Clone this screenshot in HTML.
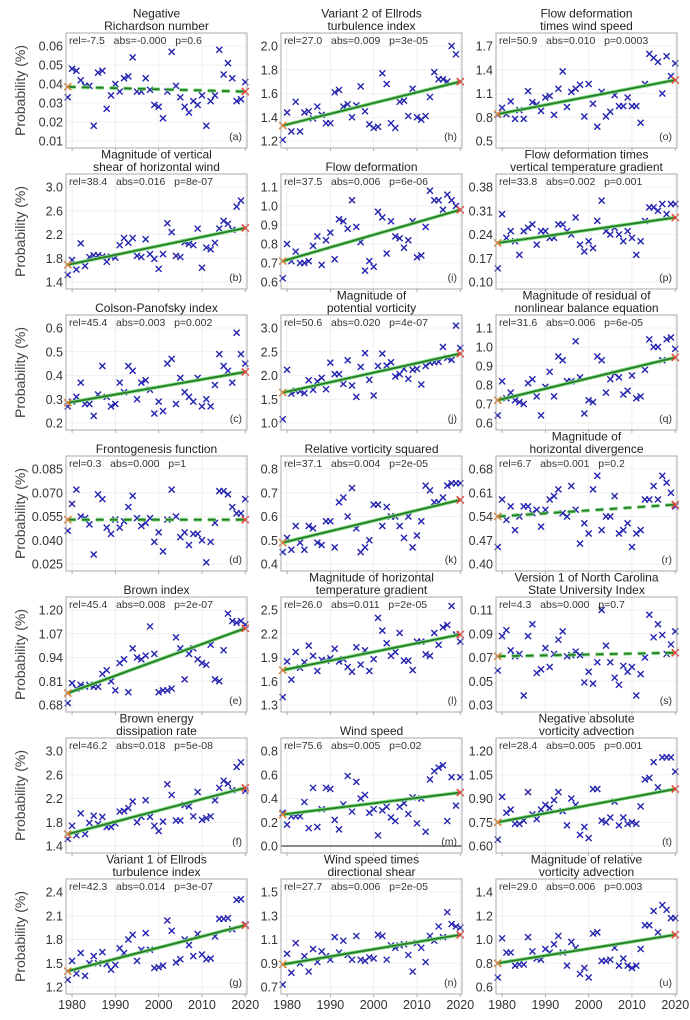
<!DOCTYPE html>
<html><head><meta charset="utf-8">
<style>
html,body{margin:0;padding:0;background:#fff;}
svg{display:block;font-family:"Liberation Sans","DejaVu Sans",sans-serif;}
.pre{white-space:pre;}
</style></head>
<body>
<svg id="chart" width="690" height="1020" viewBox="0 0 690 1020" xmlns="http://www.w3.org/2000/svg"></svg>
<script>
const years = [1979,1980,1981,1982,1983,1984,1985,1986,1987,1988,1989,1990,1991,1992,1993,1994,1995,1996,1997,1998,1999,2000,2001,2002,2003,2004,2005,2006,2007,2008,2009,2010,2011,2012,2013,2014,2015,2016,2017,2018,2019,2020];
const xTicks = [1980,1990,2000,2010,2020];

const valsA = [.033,.048,.047,.042,.039,.039,.018,.046,.047,.027,.034,.040,.036,.043,.044,.054,.036,.036,.043,.037,.029,.028,.022,.036,.057,.039,.033,.028,.025,.031,.029,.034,.018,.031,.034,.058,.045,.051,.043,.031,.032,.041];
const valsH = [1.21,1.44,1.28,1.53,1.28,1.44,1.45,1.39,1.49,1.42,1.35,1.35,1.61,1.63,1.49,1.51,1.40,1.50,1.66,1.45,1.34,1.31,1.32,1.77,1.68,1.35,1.31,1.53,1.54,1.41,1.64,1.40,1.38,1.41,1.57,1.78,1.72,1.72,1.70,2.00,1.93,1.70];
const valsO = [.83,.92,.84,1.00,.78,.89,.78,1.13,.99,.96,.88,1.05,1.07,.83,1.16,1.38,.93,1.12,1.16,1.21,.81,1.22,.97,.68,1.12,.81,.87,1.08,.94,.94,1.05,.94,.94,.73,1.22,1.60,1.55,1.50,1.10,1.57,1.32,1.48];
const valsB = [1.52,1.77,1.61,2.05,1.67,1.82,1.85,1.85,1.83,1.74,1.83,1.81,2.02,2.14,2.06,2.14,1.84,1.82,2.12,1.87,1.79,1.62,1.87,2.39,2.24,1.84,1.82,2.07,2.04,2.02,2.30,1.64,1.98,1.95,2.06,2.30,2.43,2.38,2.28,2.67,2.77,2.31];
const valsI = [.62,.80,.71,.76,.70,.70,.71,.79,.84,.69,.82,.86,.72,.93,.92,.88,1.03,.89,.81,.66,.71,.68,.97,.94,.75,.92,.84,.83,.78,.82,.92,.73,.74,.89,1.08,1.03,1.03,.98,1.06,1.03,1.00,.98];
const valsP = [.14,.30,.23,.25,.22,.18,.25,.26,.27,.21,.25,.25,.23,.23,.27,.27,.25,.24,.29,.21,.19,.22,.20,.28,.34,.25,.24,.26,.24,.22,.25,.23,.18,.22,.28,.32,.32,.31,.33,.30,.33,.33];
const valsC = [.27,.29,.31,.37,.28,.28,.23,.32,.44,.31,.27,.28,.37,.33,.44,.42,.30,.37,.38,.34,.24,.29,.25,.45,.47,.28,.39,.33,.31,.29,.39,.27,.30,.27,.36,.49,.44,.42,.37,.58,.49,.45];
const valsJ = [1.08,2.12,1.62,1.68,1.67,1.63,1.90,1.70,1.88,1.95,1.71,2.27,2.03,2.03,1.82,2.32,1.79,1.55,2.18,2.47,1.91,1.58,2.20,2.46,2.21,2.28,1.98,2.03,2.14,1.93,2.12,2.14,1.81,2.20,2.27,2.28,2.29,2.60,2.37,2.33,3.05,2.58];
const valsQ = [.64,.82,.73,.76,.72,.71,.70,.81,.83,.74,.64,.79,.87,.74,.95,.93,.82,.82,1.03,.84,.65,.72,.71,.95,.93,.76,.83,.86,.84,.75,.77,.85,.73,.74,.88,1.04,1.00,1.00,.93,1.04,1.05,.99];
const valsD = [.046,.063,.072,.055,.054,.050,.031,.069,.066,.048,.044,.053,.048,.052,.061,.068,.054,.049,.051,.054,.039,.045,.033,.053,.072,.055,.042,.045,.037,.044,.044,.040,.026,.039,.051,.071,.071,.069,.061,.057,.057,.066];
const valsK = [.45,.51,.46,.56,.49,.46,.56,.55,.49,.48,.58,.58,.47,.66,.68,.60,.72,.55,.45,.47,.50,.65,.65,.56,.64,.60,.60,.56,.51,.60,.47,.52,.58,.73,.71,.66,.66,.68,.73,.74,.74,.74];
const valsR = [.45,.59,.53,.57,.50,.54,.57,.57,.55,.56,.51,.56,.59,.60,.62,.55,.54,.63,.56,.46,.52,.49,.62,.66,.50,.54,.54,.60,.49,.50,.52,.45,.49,.50,.59,.59,.63,.59,.66,.64,.61,.57];
const valsE = [.69,.80,.77,.79,.78,.79,.78,.78,.85,.87,.81,.76,.91,.93,.75,.99,.94,.93,.95,1.11,.96,.75,.76,.76,.77,1.05,.99,.82,.96,.99,.93,.91,.90,1.01,.82,.81,.98,1.18,1.14,1.13,1.14,1.12];
const valsL = [1.40,1.85,1.62,1.97,1.77,1.84,2.05,1.92,1.73,1.87,1.86,1.89,2.01,1.85,1.88,1.78,1.72,2.03,1.81,1.99,1.73,1.88,2.40,2.24,2.08,1.92,1.97,2.21,1.86,1.86,1.74,2.10,2.10,1.94,1.92,2.21,2.06,2.28,2.31,2.55,2.19,2.10];
const valsS = [.059,.088,.093,.076,.071,.073,.038,.088,.098,.057,.060,.078,.062,.073,.085,.092,.071,.072,.075,.072,.049,.058,.048,.066,.110,.080,.066,.053,.047,.063,.058,.062,.038,.056,.070,.106,.087,.098,.089,.073,.081,.092];
const valsF = [1.52,1.74,1.58,1.95,1.60,1.79,1.91,1.77,1.89,1.72,1.72,1.78,1.98,1.99,2.04,2.15,1.80,1.89,2.17,1.89,1.74,1.65,1.81,2.44,2.26,1.83,1.83,2.09,2.07,1.90,2.31,1.84,1.87,1.90,2.17,2.38,2.50,2.45,2.34,2.73,2.81,2.33];
const valsM = [.28,.18,.25,.25,.25,.37,.15,.49,.16,.31,.49,.48,.22,.14,.35,.59,.29,.54,.40,.43,.28,.31,.09,.30,.33,.24,.21,.33,.36,.27,.41,.19,.40,.12,.56,.63,.66,.68,.21,.58,.34,.58];
const valsT = [.64,.91,.81,.83,.74,.74,.76,.94,.80,.77,.83,.86,.84,.89,.94,.82,.73,.90,.86,.67,.72,.65,.96,.96,.76,.75,.78,.88,.73,.78,.74,.75,.74,.85,1.02,1.03,1.13,.97,1.16,1.16,1.16,1.07];
const valsG = [1.29,1.53,1.37,1.63,1.34,1.50,1.59,1.50,1.64,1.49,1.42,1.48,1.69,1.63,1.80,1.86,1.53,1.67,1.88,1.67,1.44,1.45,1.47,2.04,1.91,1.51,1.55,1.80,1.73,1.59,1.87,1.61,1.55,1.56,1.84,2.06,2.06,2.07,1.93,2.30,2.31,1.99];
const valsN = [.72,.98,.82,1.07,.90,.96,.83,1.02,.91,1.00,.96,.93,1.12,.99,1.09,.97,.93,1.13,.93,.92,.95,.94,1.14,1.13,.93,1.05,1.03,1.05,1.06,.97,.83,1.07,1.03,.91,1.13,1.09,1.21,1.12,1.33,1.23,1.21,1.20];
const valsU = [.68,1.01,.89,.89,.78,.79,.79,1.02,.90,.84,.83,.92,.89,.96,1.03,.89,.78,.98,.93,.71,.76,.68,1.05,1.06,.82,.82,.83,.93,.78,.84,.78,.76,.78,.92,1.12,1.12,1.24,1.06,1.29,1.25,1.18,1.18];

const panelLetters = ['a','h','o','b','i','p','c','j','q','d','k','r','e','l','s','f','m','t','g','n','u'];
const panelTitles = [
 ['Negative','Richardson number'],['Variant 2 of Ellrods','turbulence index'],['Flow deformation','times wind speed'],
 ['Magnitude of vertical','shear of horizontal wind'],['Flow deformation'],['Flow deformation times','vertical temperature gradient'],
 ['Colson-Panofsky index'],['Magnitude of','potential vorticity'],['Magnitude of residual of','nonlinear balance equation'],
 ['Frontogenesis function'],['Relative vorticity squared'],['Magnitude of','horizontal divergence'],
 ['Brown index'],['Magnitude of horizontal','temperature gradient'],['Version 1 of North Carolina','State University Index'],
 ['Brown energy','dissipation rate'],['Wind speed'],['Negative absolute','vorticity advection'],
 ['Variant 1 of Ellrods','turbulence index'],['Wind speed times','directional shear'],['Magnitude of relative','vorticity advection']];
const panelStats = ['rel=-7.5   abs=-0.000   p=0.6','rel=27.0   abs=0.009   p=3e-05','rel=50.9   abs=0.010   p=0.0003',
 'rel=38.4   abs=0.016   p=8e-07','rel=37.5   abs=0.006   p=6e-06','rel=33.8   abs=0.002   p=0.001',
 'rel=45.4   abs=0.003   p=0.002','rel=50.6   abs=0.020   p=4e-07','rel=31.6   abs=0.006   p=6e-05',
 'rel=0.3   abs=0.000   p=1','rel=37.1   abs=0.004   p=2e-05','rel=6.7   abs=0.001   p=0.2',
 'rel=45.4   abs=0.008   p=2e-07','rel=26.0   abs=0.011   p=2e-05','rel=4.3   abs=0.000   p=0.7',
 'rel=46.2   abs=0.018   p=5e-08','rel=75.6   abs=0.005   p=0.02','rel=28.4   abs=0.005   p=0.001',
 'rel=42.3   abs=0.014   p=3e-07','rel=27.7   abs=0.006   p=2e-05','rel=29.0   abs=0.006   p=0.003'];
const panelTicks = [
 ['0.01','0.02','0.03','0.04','0.05','0.06'],['1.2','1.4','1.6','1.8','2.0'],['0.5','0.8','1.1','1.4','1.7'],
 ['1.4','1.8','2.2','2.6','3.0'],['0.6','0.7','0.8','0.9','1.0','1.1'],['0.10','0.17','0.24','0.31','0.38'],
 ['0.2','0.3','0.4','0.5','0.6'],['1.0','1.5','2.0','2.5','3.0'],['0.6','0.7','0.8','0.9','1.0','1.1'],
 ['0.025','0.040','0.055','0.070','0.085'],['0.4','0.5','0.6','0.7','0.8'],['0.40','0.47','0.54','0.61','0.68'],
 ['0.68','0.81','0.94','1.07','1.20'],['1.3','1.6','1.9','2.2','2.5'],['0.03','0.05','0.07','0.09','0.11'],
 ['1.4','1.8','2.2','2.6','3.0'],['0.0','0.2','0.4','0.6','0.8'],['0.60','0.75','0.90','1.05','1.20'],
 ['1.2','1.5','1.8','2.1','2.4'],['0.7','0.9','1.1','1.3','1.5'],['0.6','0.8','1.0','1.2','1.4']];
const trendStart = [.0385,1.33,.84,1.69,.71,.215,.285,1.64,.72,.053,.49,.54,.745,1.74,.071,1.60,.265,.75,1.40,.89,.80];
const trendEnd   = [.036,1.70,1.27,2.31,.98,.29,.415,2.46,.945,.053,.67,.575,1.10,2.19,.074,2.38,.45,.96,1.98,1.14,1.04];
const trendDashed = [true,false,false,false,false,false,false,false,false,true,false,true,false,false,true,false,false,false,false,false,false];
const panelValues = [valsA,valsH,valsO,valsB,valsI,valsP,valsC,valsJ,valsQ,valsD,valsK,valsR,valsE,valsL,valsS,valsF,valsM,valsT,valsG,valsN,valsU];

const NS='http://www.w3.org/2000/svg';
const svg=document.getElementById('chart');
function mk(tag,attrs,parent){const e=document.createElementNS(NS,tag);for(const k in attrs)e.setAttribute(k,attrs[k]);(parent||svg).appendChild(e);return e;}

const colX=[66,281,496], W=181, H=115, rowTop0=33, rowPitch=141;
const xMin=1978.6, xMax=2020.4;

for(let p=0;p<21;p++){
  const r=Math.floor(p/3), c=p%3;
  const L=colX[c], T=rowTop0+r*rowPitch, B=T+H, R=L+W;
  const ticks=panelTicks[p].map(Number);
  const t0=ticks[0], t1=ticks[ticks.length-1];
  const y0px=B-7, y1px=T+13;
  const sy=v=>y0px+(v-t0)*(y1px-y0px)/(t1-t0);
  const sx=yr=>L+(yr-xMin)*W/(xMax-xMin);
  const g=mk('g',{});
  
  
  const bg=mk('rect',{x:L,y:T,width:W,height:H,fill:'#fff',stroke:'none'},g);
  
  
  xTicks.forEach(t=>{const gl=mk('line',{x1:sx(t),x2:sx(t),y1:T,y2:B,stroke:'#ececec','stroke-width':0.8},g);
    
    const tk=mk('line',{x1:sx(t),x2:sx(t),y1:B,y2:B+3,stroke:'#999','stroke-width':0.8},g);
    });
  panelTicks[p].forEach(s=>{const v=Number(s);const yy=sy(v);
    const gl=mk('line',{x1:L,x2:R,y1:yy,y2:yy,stroke:'#ececec','stroke-width':0.8},g);
    
    const tl=mk('text',{x:L-3,y:yy+4.5,'text-anchor':'end','font-size':12.5,fill:'#333'},g);
    tl.textContent=s;
    });
  if(p===16){const zl=mk('line',{x1:L,x2:R,y1:sy(0),y2:sy(0),stroke:'#444','stroke-width':1.2},g);
    }
  panelValues[p].forEach((v,i)=>{const cx=sx(years[i]),cy=sy(v),d=3;
    const m=mk('path',{d:`M${cx-d},${cy-d}L${cx+d},${cy+d}M${cx-d},${cy+d}L${cx+d},${cy-d}`,stroke:'#2323b0','stroke-width':1.4,fill:'none'},g);
    });
  const xa=sx(years[0]),xb=sx(years[years.length-1]),ya=sy(trendStart[p]),yb=sy(trendEnd[p]);
  const dash=trendDashed[p]?'8,6':'none';
  const glow=mk('line',{x1:xa,y1:ya,x2:xb,y2:yb,stroke:'#7ee07e','stroke-width':3.6,'stroke-dasharray':dash},g);
  
  const tl=mk('line',{x1:xa,y1:ya,x2:xb,y2:yb,stroke:'#2b7a2b','stroke-width':1.8,'stroke-dasharray':dash},g);
  
  [[xa,ya,'#d9823a','trend-start-marker'],[xb,yb,'#e8473c','trend-end-marker']].forEach(([cx,cy,col,nm])=>{const d=3.5;
    const m=mk('path',{d:`M${cx-d},${cy-d}L${cx+d},${cy+d}M${cx-d},${cy+d}L${cx+d},${cy-d}`,stroke:col,'stroke-width':1.6,fill:'none'},g);
    });
  const fr=mk('rect',{x:L,y:T,width:W,height:H,fill:'none',stroke:'#aaa','stroke-width':1},g);
  
  const st=mk('text',{x:L+3,y:T+11,'font-size':10.5,fill:'#333',class:'pre'},g);
  st.textContent=panelStats[p];
  
  const lb=mk('text',{x:R-5,y:B-8,'text-anchor':'end','font-size':10.5,fill:'#333'},g);
  lb.textContent='('+panelLetters[p]+')';
  
  const lines=panelTitles[p];
  lines.forEach((ln,k)=>{const yy=T-3-(lines.length-1-k)*12.5;
    const tt=mk('text',{x:L+W/2,y:yy,'text-anchor':'middle','font-size':12,fill:'#222'},g);
    tt.textContent=ln;
    });
  if(c===0){const yl=mk('text',{x:0,y:0,transform:`translate(25,${(T+B)/2}) rotate(-90)`,'text-anchor':'middle','font-size':14,fill:'#444'},g);
    yl.textContent='Probability (%)';
    }
  if(r===6){xTicks.forEach(t=>{const xl=mk('text',{x:sx(t),y:B+15,'text-anchor':'middle','font-size':12.5,fill:'#333'},g);
    xl.textContent=String(t);
    });}
}
</script>
</body></html>
